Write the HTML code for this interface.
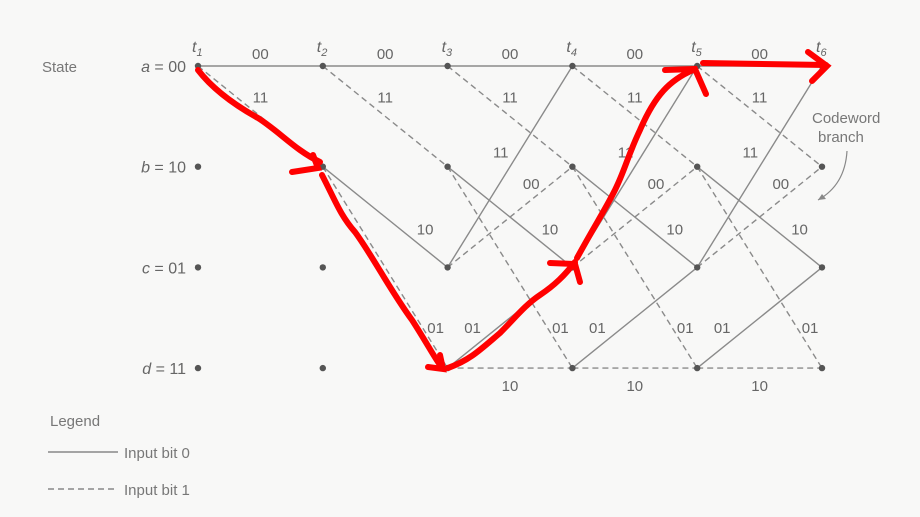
<!DOCTYPE html>
<html><head><meta charset="utf-8"><style>
html,body{margin:0;padding:0;background:#f8f8f7;}
svg{display:block;font-family:"Liberation Sans",sans-serif;}
</style></head><body>
<svg width="920" height="517" viewBox="0 0 920 517" id="chart">
<rect width="920" height="517" fill="#f8f8f7"/>
<text x="42" y="72" font-size="15" fill="#777">State</text>
<g id="grid"></g>
<g>
<text x="50" y="426" font-size="15" fill="#777">Legend</text>
<line x1="48" y1="452" x2="118" y2="452" stroke="#888" stroke-width="1.5"/>
<text x="124" y="458" font-size="15" fill="#777">Input bit 0</text>
<line x1="48" y1="489" x2="118" y2="489" stroke="#888" stroke-width="1.5" stroke-dasharray="6,4"/>
<text x="124" y="495" font-size="15" fill="#777">Input bit 1</text>
</g>
<g>
<text x="812" y="123" font-size="15" fill="#777">Codeword</text>
<text x="818" y="142" font-size="15" fill="#777">branch</text>
<path d="M847 151 Q845 185 818 200" fill="none" stroke="#888" stroke-width="1.2"/>
<path d="M818 200 l8 -1 l-4 -5 z" fill="#888"/>
</g>
<g id="red">
<path d="M198 70 C215 92 240 108 258 118 C280 132 295 150 320 162" fill="none" stroke="#f00" stroke-width="6" stroke-linecap="round"/>
<path d="M292 172 L318 168 L313 155" fill="none" stroke="#f00" stroke-width="6" stroke-linecap="round"/>
<path d="M322 175 C335 200 340 215 355 232 C372 255 390 290 412 320 C425 340 433 355 440 365" fill="none" stroke="#f00" stroke-width="6" stroke-linecap="round"/>
<path d="M440 355 L443 369 L428 367" fill="none" stroke="#f00" stroke-width="6" stroke-linecap="round"/>
<path d="M448 368 C470 360 480 350 500 333 C515 318 525 305 540 295 C555 285 565 275 575 262" fill="none" stroke="#f00" stroke-width="6" stroke-linecap="round"/>
<path d="M550 263 L575 264 L580 282" fill="none" stroke="#f00" stroke-width="6" stroke-linecap="round"/>
<path d="M577 258 C595 225 605 210 615 190 C625 170 628 155 640 130 C655 95 670 80 693 70" fill="none" stroke="#f00" stroke-width="6" stroke-linecap="round"/>
<path d="M665 70 L695 69 L706 94" fill="none" stroke="#f00" stroke-width="6" stroke-linecap="round"/>
<path d="M703 63 L826 65" fill="none" stroke="#f00" stroke-width="6" stroke-linecap="round"/>
<path d="M808 52 L827 66 L812 81" fill="none" stroke="#f00" stroke-width="6" stroke-linecap="round"/>
</g>
</svg>
<script>
const timeLabels = ["1","2","3","4","5","6"];
const stateNames = ["a = 00","b = 10","c = 01","d = 11"];
// transitions: from state, to state, codeword, input bit
const fromStates = [0,0,1,1,2,2,3,3];
const toStates   = [0,1,2,3,0,1,2,3];
const codewords  = ["00","11","10","01","11","00","01","10"];
const inputBits  = [0,1,0,1,0,1,0,1];

const NS="http://www.w3.org/2000/svg";
const g=document.getElementById('grid');
const xOf=i=>198+i*124.8;
const yOf=s=>66+s*100.7;
function mk(tag,attrs,p){const e=document.createElementNS(NS,tag);for(const k in attrs)e.setAttribute(k,attrs[k]);(p||g).appendChild(e);return e;}
// label placement per transition kind (styling only)
const lp=[[.5,0,-12],[.5,0,-19],[.82,0,-20],[.8,13,0],[.57,-18,0],[.67,0,-16],[.2,0,-20],[.5,0,18]];
// reachable states
let reach=[true,false,false,false];
for(let t=0;t<timeLabels.length-1;t++){
  const next=[false,false,false,false];
  for(let k=0;k<fromStates.length;k++){
    if(!reach[fromStates[k]])continue;
    next[toStates[k]]=true;
    const x1=xOf(t),y1=yOf(fromStates[k]),x2=xOf(t+1),y2=yOf(toStates[k]);
    const ln=mk('line',{x1,y1,x2,y2,stroke:'#8a8a8a','stroke-width':1.4});
    if(inputBits[k])ln.setAttribute('stroke-dasharray','6,4');
    
    
    const [f,dx,dy]=lp[k];
    const tx=mk('text',{x:x1+(x2-x1)*f+dx,y:y1+(y2-y1)*f+dy+5,'font-size':15,fill:'#666','text-anchor':'middle'});
    tx.textContent=codewords[k];
    
    
  }
  reach=next;
}
for(let t=0;t<timeLabels.length;t++){
  const tl=mk('text',{x:xOf(t)-6,y:52,'font-size':16,fill:'#666','font-style':'italic'});
  tl.innerHTML='t<tspan font-size="11" dy="4">'+timeLabels[t]+'</tspan>';
  
  
  for(let s=0;s<stateNames.length;s++){
    const c=mk('circle',{cx:xOf(t),cy:yOf(s),r:3.2,fill:'#555'});
    
    
  }
}
for(let s=0;s<stateNames.length;s++){
  const parts=stateNames[s].split(' = ');
  const tx=mk('text',{x:186,y:yOf(s)+6,'font-size':16,fill:'#666','text-anchor':'end'});
  tx.innerHTML='<tspan font-style="italic">'+parts[0]+'</tspan> = '+parts[1];
  
  
}
document.getElementById('chart').appendChild(document.getElementById('red'));
</script>
</body></html>
